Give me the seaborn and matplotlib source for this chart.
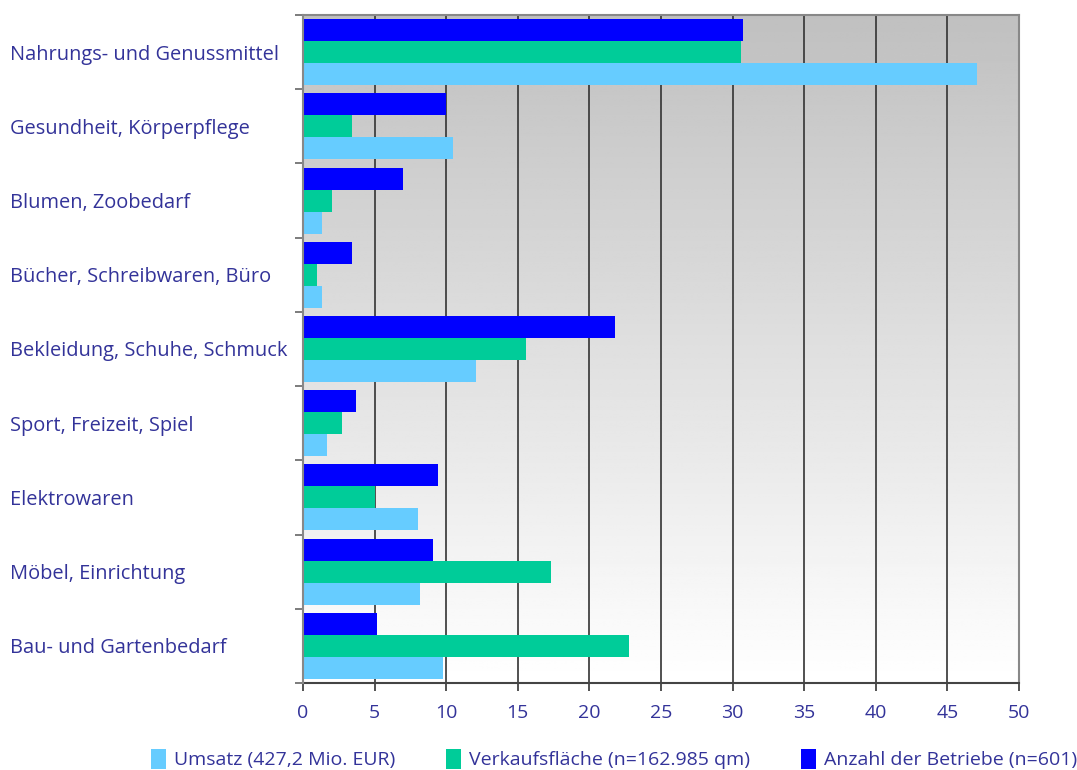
import numpy as np
import pandas as pd
import matplotlib
matplotlib.use("Agg")
import matplotlib.pyplot as plt
import seaborn as sns
from matplotlib.patches import Patch

categories = [
    "Nahrungs- und Genussmittel",
    "Gesundheit, Körperpflege",
    "Blumen, Zoobedarf",
    "Bücher, Schreibwaren, Büro",
    "Bekleidung, Schuhe, Schmuck",
    "Sport, Freizeit, Spiel",
    "Elektrowaren",
    "Möbel, Einrichtung",
    "Bau- und Gartenbedarf",
]
umsatz = [47.1, 10.5, 1.3, 1.3, 12.1, 1.7, 8.0, 8.2, 9.8]
verkaufsflaeche = [30.6, 3.4, 2.0, 1.0, 15.6, 2.7, 5.0, 17.3, 22.8]
betriebe = [30.7, 10.0, 7.0, 3.4, 21.8, 3.7, 9.4, 9.1, 5.2]
series_names = ["Umsatz (427,2 Mio. EUR)", "Verkaufsfläche (n=162.985 qm)", "Anzahl der Betriebe (n=601)"]
xticks = [0, 5, 10, 15, 20, 25, 30, 35, 40, 45, 50]

colors = {series_names[0]: "#66CCFF", series_names[1]: "#00CC99", series_names[2]: "#0000FF"}
text_color = "#333399"

df = pd.DataFrame({
    "cat": categories * 3,
    "val": umsatz + verkaufsflaeche + betriebe,
    "series": [series_names[0]] * 9 + [series_names[1]] * 9 + [series_names[2]] * 9,
})

sns.set_theme(style="white")
plt.rcParams["font.family"] = ["Open Sans", "DejaVu Sans"]

fig = plt.figure(figsize=(10.77, 7.7), dpi=100)
ax = fig.add_axes([303 / 1077, 1 - 683 / 770, (1019 - 303) / 1077, (683 - 15) / 770])

# gradient background
grad = np.linspace(192, 255, 256).reshape(-1, 1) / 255.0
ax.imshow(np.repeat(grad, 2, axis=1), cmap="gray", vmin=0, vmax=1, aspect="auto",
          extent=(0, 1, 0, 1), transform=ax.transAxes, origin="upper", zorder=0)

hue_order = [series_names[2], series_names[1], series_names[0]]
sns.barplot(data=df, y="cat", x="val", hue="series", hue_order=hue_order, order=categories,
            palette=colors, orient="h", width=0.89, gap=0, linewidth=0, saturation=1,
            ax=ax, legend=False, zorder=3)

ax.set_xlim(0, 50)
ax.set_ylim(len(categories) - 0.5, -0.5)
ax.set_xticks(xticks)
ax.set_xticklabels([str(t) for t in xticks], color=text_color, fontsize=14)
ax.set_xlabel("")
ax.set_ylabel("")

for t in xticks[1:]:
    ax.axvline(t, color="#333333", linewidth=1.2, zorder=2)

ax.set_yticks(range(len(categories)))
ax.set_yticklabels(categories, color=text_color, fontsize=14.4, ha="left")
ax.tick_params(axis="y", which="major", length=0, pad=(303 - 10) * 0.72)
for lbl in ax.get_yticklabels():
    lbl.set_y(lbl.get_position()[1])
ax.set_yticks(np.arange(-0.5, len(categories), 1.0), minor=True)
ax.tick_params(axis="y", which="minor", length=6, width=1.2, color="#666666", direction="out", left=True)
ax.tick_params(axis="x", which="major", length=6, width=1.2, color="#333333", direction="out", bottom=True, pad=9)

for side in ["top", "right", "left"]:
    ax.spines[side].set_color("#888888")
    ax.spines[side].set_linewidth(1.5)
ax.spines["bottom"].set_color("#444444")
ax.spines["bottom"].set_linewidth(1.5)
ax.spines["left"].set_zorder(4)

handles = [Patch(facecolor=colors[s], edgecolor="none") for s in series_names]
leg = fig.legend(handles, series_names, loc="lower center", bbox_to_anchor=(0.57, -0.022), ncol=3,
                 frameon=False, fontsize=14, handlelength=0.8, handleheight=1.2,
                 handletextpad=0.4, columnspacing=2.6)
for t in leg.get_texts():
    t.set_color(text_color)

fig.savefig("out.png", dpi=100)
